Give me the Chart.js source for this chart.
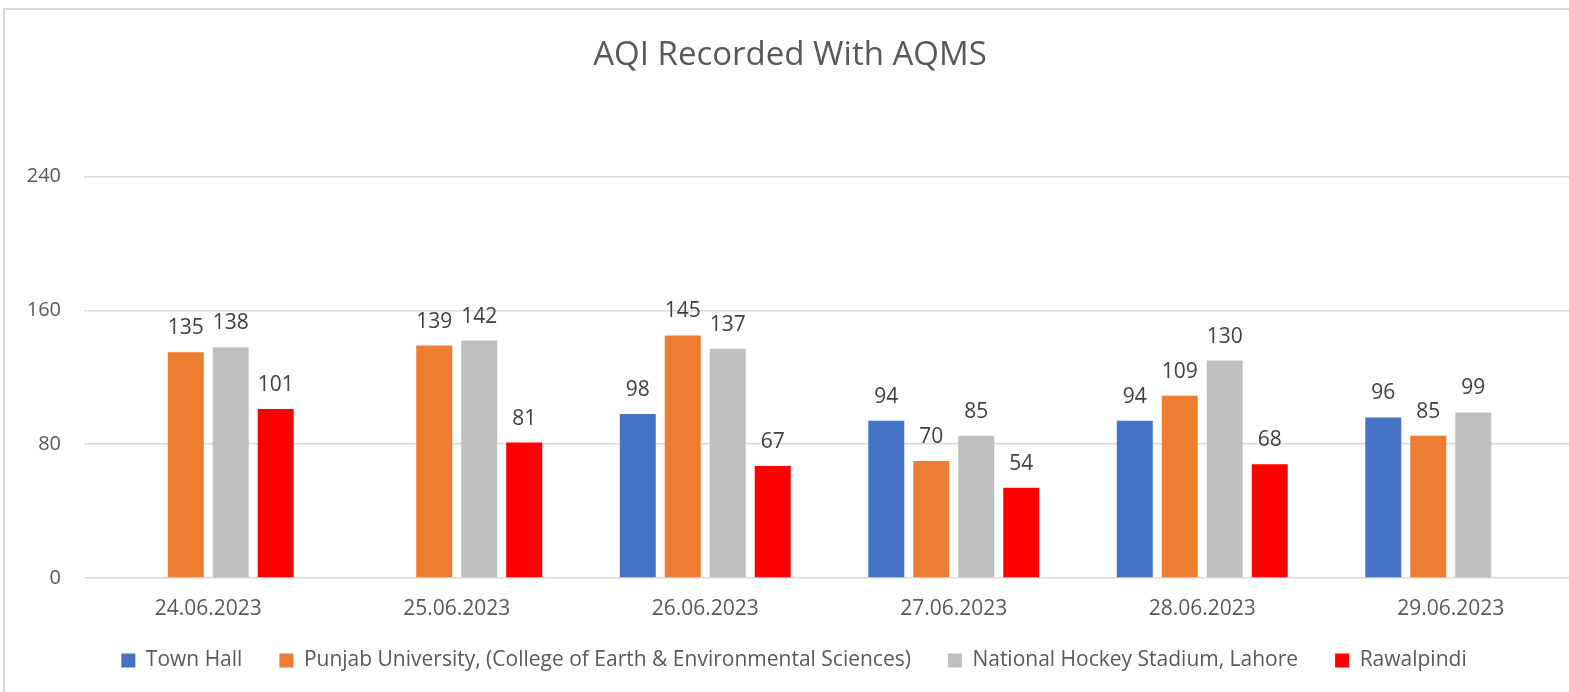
<!DOCTYPE html>
<html>
<head>
<meta charset="utf-8">
<script src="https://cdn.jsdelivr.net/npm/chart.js@4.4.1/dist/chart.umd.min.js"></script>
<style>
    html, body { margin: 0; padding: 0; background: #fff; overflow: hidden; }
    #frame {
        position: absolute;
        left: 3px;
        top: 8px;
        width: 1572px;
        height: 700px;
        border: 2px solid #d9d9d9;
    }
</style>
</head>
<body>
<div id="frame"><canvas id="aqi-chart" width="1572" height="684"></canvas></div>
<script>
    // values
    const dates = ['24.06.2023', '25.06.2023', '26.06.2023', '27.06.2023', '28.06.2023', '29.06.2023'];
    const townHall = [null, null, 98, 94, 94, 96];
    const punjabUniversity = [135, 139, 145, 70, 109, 85];
    const hockeyStadium = [138, 142, 137, 85, 130, 99];
    const rawalpindi = [101, 81, 67, 54, 68, null];
    const yTicks = [0, 80, 160, 240];

    const FONT = '"Open Sans", "Noto Sans", sans-serif';
    const TEXT = '#595959';

    // value labels above each bar
    const barLabels = {
        id: 'barLabels',
        afterDatasetsDraw(chart) {
            const ctx = chart.ctx;
            ctx.save();
            ctx.font = '21px ' + FONT;
            ctx.fillStyle = '#404040';
            ctx.textAlign = 'center';
            ctx.textBaseline = 'alphabetic';
            chart.data.datasets.forEach((ds, i) => {
                const meta = chart.getDatasetMeta(i);
                meta.data.forEach((bar, j) => {
                    const v = ds.data[j];
                    if (v === null || v === undefined) {
                        return;
                    }
                    ctx.fillText(String(v), bar.x, bar.y - 18);
                });
            });
            ctx.restore();
        },
    };

    // move the legend a bit up and right, like the excel original
    const legendShift = {
        id: 'legendShift',
        afterLayout(chart) {
            const lg = chart.legend;
            if (lg) {
                lg.left += 4;
                lg.right += 4;
                lg.top -= 10;
                lg.bottom -= 10;
            }
        },
    };

    new Chart(document.getElementById('aqi-chart'), {
        type: 'bar',
        data: {
            labels: dates,
            datasets: [
                { label: 'Town Hall', data: townHall, backgroundColor: '#4472C4' },
                { label: 'Punjab University, (College of Earth & Environmental Sciences)', data: punjabUniversity, backgroundColor: '#ED7D31' },
                { label: 'National Hockey Stadium, Lahore', data: hockeyStadium, backgroundColor: '#BFBFBF' },
                { label: 'Rawalpindi', data: rawalpindi, backgroundColor: '#FF0000' },
            ],
        },
        options: {
            responsive: false,
            animation: false,
            events: [],
            layout: { padding: { left: 0, right: 2, top: 0, bottom: 3 } },
            datasets: {
                bar: { categoryPercentage: 0.724, barPercentage: 0.8 },
            },
            plugins: {
                title: {
                    display: true,
                    text: 'AQI Recorded With AQMS',
                    color: TEXT,
                    font: { family: FONT, size: 33, weight: 'normal', lineHeight: 1.2 },
                    padding: { top: 26, bottom: 101 },
                },
                legend: {
                    position: 'bottom',
                    labels: {
                        color: TEXT,
                        font: { family: FONT, size: 21 },
                        boxWidth: 14,
                        boxHeight: 14,
                        padding: 37,
                    },
                },
                tooltip: { enabled: false },
            },
            scales: {
                x: {
                    grid: { display: false },
                    border: { display: false },
                    ticks: { color: TEXT, font: { family: FONT, size: 21 }, padding: 10, maxRotation: 0 },
                    afterFit(scale) { scale.height = 45; },
                },
                y: {
                    min: 0,
                    max: yTicks[yTicks.length - 1],
                    grid: { color: '#d9d9d9', lineWidth: 1.5, drawTicks: false },
                    border: { display: false },
                    ticks: {
                        stepSize: yTicks[1] - yTicks[0],
                        color: TEXT,
                        font: { family: FONT, size: 20 },
                        padding: 23,
                    },
                    afterFit(scale) { scale.width = 79; },
                },
            },
        },
        plugins: [barLabels, legendShift],
    });
</script>
</body>
</html>
